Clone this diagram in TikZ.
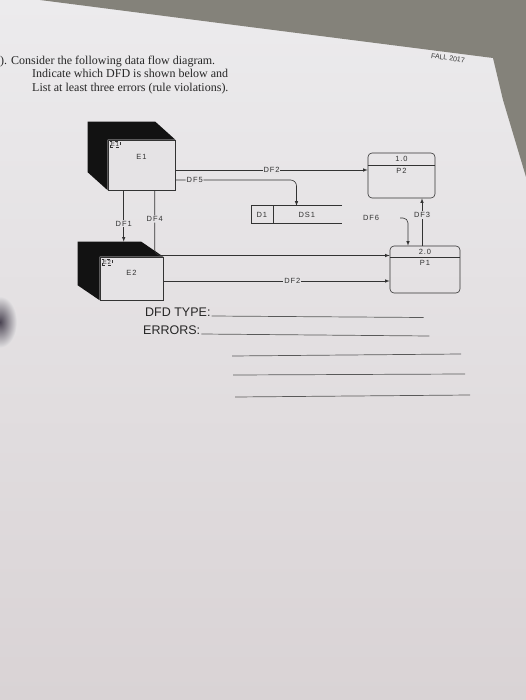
\documentclass[tikz,border=0pt]{standalone}
\usepackage{fontspec}
\setmainfont{Liberation Serif}
\setsansfont{Liberation Sans}
\newfontfamily\dfdfont[LetterSpace=12]{Liberation Sans}
\usetikzlibrary{positioning}
\definecolor{paperhi}{HTML}{ECEBED}
\definecolor{paper}{HTML}{E5E3E5}
\definecolor{paperlo}{HTML}{D9D3D5}
\definecolor{desk}{HTML}{84827A}
\definecolor{ink}{HTML}{333333}
\definecolor{blob}{HTML}{4A4452}

\begin{document}
\begin{tikzpicture}[x=1pt, y=-1pt, >=latex,
	line/.style={draw=ink, line width=.6pt},
	lbl/.style={font=\dfdfont\fontsize{7.5}{8}\selectfont, text=ink, inner sep=1pt},
	cut/.style={lbl, fill=paper},
	tag/.style={draw=ink, dashed, line width=.5pt, font=\dfdfont\fontsize{6}{6}\selectfont, text=ink, inner sep=1pt, anchor=north west},
	ent/.style={line, fill=paper, inner sep=0pt},
	proc/.style={line, rounded corners=4pt, minimum width=67pt, minimum height=45pt},
	store/.style={minimum width=91pt, minimum height=17pt, inner sep=0pt},
	quest/.style={font=\fontsize{12}{13.5}\selectfont, text=black!85, align=left, anchor=north west, inner sep=0pt},
	form/.style={font=\sffamily\fontsize{12.5}{14}\selectfont, text=black!85, anchor=base west, inner sep=0pt},
	]
	\useasboundingbox (0,0) rectangle (526,700);

	% photo of the sheet
	\shade[top color=paperhi, bottom color=paperlo] (0,0) rectangle (526,700);
	\fill[desk] (40,0) -- (250,27) -- (493,58) -- (503,100) -- (526,177) -- (526,0) -- cycle;
	\shade[inner color=blob, outer color=paper] (0,322) ellipse [x radius=17pt, y radius=26pt];

	% question
	\node[quest] (quest) at (0,55.5) {). Consider the following data flow diagram.\\
		\hspace*{32pt}Indicate which DFD is shown below and\\
		\hspace*{32pt}List at least three errors (rule violations).};
	\node[font=\sffamily\fontsize{7}{7}\selectfont, text=black!80, rotate=-8] (fall) at (448,58) {FALL 2017};

	% entities
	\node[ent, minimum width=67pt, minimum height=50pt] (E1) at (141.5,165) {};
	\fill[black!93] (E1.south west) -- ++(-20,-18) |- ([shift={(-20,-18)}]E1.north east) -- (E1.north east) -- (E1.north west) -- cycle;
	\node[tag] (E1t) at ([shift={(2,1)}]E1.north west) {E1};
	\node[lbl] (E1n) at ([yshift=8pt]E1.center) {E1};

	\node[ent, minimum width=63pt, minimum height=43pt] (E2) at (131.5,278.5) {};
	\fill[black!93] (E2.south west) -- ++(-22,-15) |- ([shift={(-22,-15)}]E2.north east) -- (E2.north east) -- (E2.north west) -- cycle;
	\node[tag] (E2t) at ([shift={(2,2)}]E2.north west) {E2};
	\node[lbl] (E2n) at ([yshift=5.5pt]E2.center) {E2};

	% processes
	\node[proc] (P2) at (401.5,175.5) {};
	\draw[line] ([yshift=-13pt]P2.north west) -- ([yshift=-13pt]P2.north east);
	\node[lbl] (P2i) at ([yshift=-6.5pt]P2.north) {1.0};
	\node[lbl] (P2n) at ([yshift=-18pt]P2.north) {P2};

	\node[proc, minimum width=70pt, minimum height=47pt] (P1) at (425,269.5) {};
	\draw[line] ([yshift=-12pt]P1.north west) -- ([yshift=-12pt]P1.north east);
	\node[lbl] (P1i) at ([yshift=-6pt]P1.north) {2.0};
	\node[lbl] (P1n) at ([yshift=-17pt]P1.north) {P1};

	% data store
	\node[store] (D1) at (296.5,214.5) {};
	\draw[line] (D1.north east) -- (D1.north west) -- (D1.south west) -- (D1.south east);
	\draw[line] ([xshift=22pt]D1.north west) -- ([xshift=22pt]D1.south west);
	\node[lbl] (D1i) at ([xshift=11pt]D1.west) {D1};
	\node[lbl] (D1n) at ([xshift=56pt]D1.west) {DS1};

	\path
		([yshift=-5pt]E1.east) coordinate (a2)
		([yshift=-15pt]E1.east) coordinate (a5)
		([xshift=16pt]E1.south west) coordinate (a1)
		([xshift=47pt]E1.south west) coordinate (a4)
		([shift={(-22,-15)}]E2.north west) coordinate (E2b)
		([yshift=-2.5pt]E2.east) coordinate (a6)
		([yshift=14pt]P1.west) coordinate (b4)
		([xshift=-17pt]P1.north) coordinate (b6)
		([xshift=-3pt]P1.north) coordinate (b3)
	;
	\node[lbl] (DF6) at (371,218) {DF6};
	\coordinate (c6) at ([xshift=29pt]DF6.center);

	% flows
	\draw[line,->] (a2) -- node[cut]{DF2} (a2 -| P2.west);
	\draw[line,->,rounded corners=6pt] (a5) -| node[cut,pos=.08]{DF5} (D1.north);
	\draw[line,->] (a1) -- node[cut,pos=.65]{DF1} (a1 |- E2b);
	\draw[line,->,rounded corners=6pt] (a4) |- node[cut,pos=.22]{DF4} (b4);
	\draw[line,->] (a6) -- node[cut,pos=.57]{DF2} (a6 -| P1.west);
	\draw[line,->,rounded corners=5pt] (c6) -| (b6);
	\draw[line,->] (b3) -- node[cut,pos=.65]{DF3} (b3 |- P2.south);

	% answer lines
	\node[form] (type) at (145,316) {DFD TYPE:};
	\node[form] (err) at (143,334) {ERRORS:};
	\draw[draw=black!65, line width=.7pt]
		([xshift=1pt]type.base east) -- ++(212,1.5)
		([xshift=1pt]err.base east) -- ++(228,2)
		(232,356) -- (461,354)
		(233,375) -- (465,374)
		(235,397) -- (470,395)
	;
\end{tikzpicture}
\end{document}
